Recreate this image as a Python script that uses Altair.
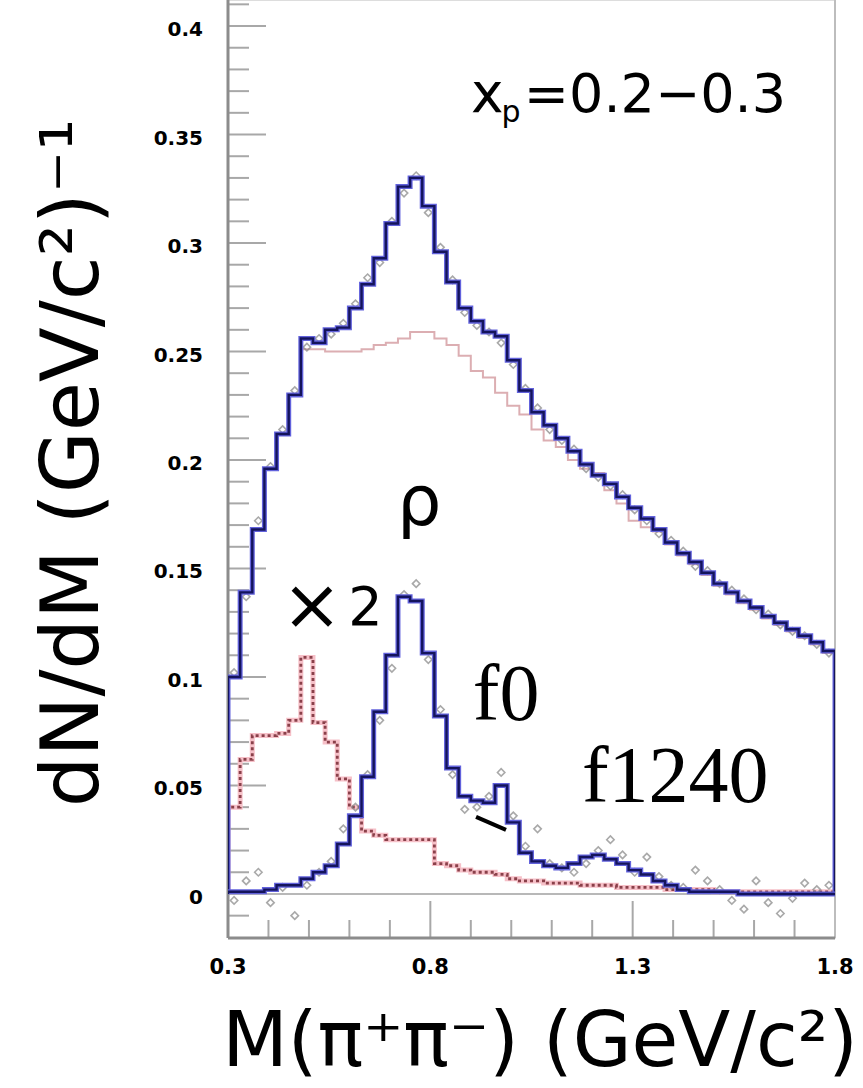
import altair as alt
import pandas as pd

# ---------------- data ----------------
BIN_START = 0.30
BIN_WIDTH = 0.03
N_BINS = 50
edges = [round(BIN_START + BIN_WIDTH * i, 3) for i in range(N_BINS + 1)]
centers = [round(BIN_START + BIN_WIDTH * (i + 0.5), 3) for i in range(N_BINS)]

# total distribution (blue histogram, upper)
upper = [0.100, 0.139, 0.168, 0.196, 0.212, 0.230, 0.256, 0.254, 0.260, 0.261,
         0.270, 0.281, 0.293, 0.309, 0.326, 0.330, 0.317, 0.296, 0.282, 0.270,
         0.264, 0.259, 0.257, 0.246, 0.232, 0.222, 0.216, 0.210, 0.204, 0.198,
         0.193, 0.189, 0.183, 0.178, 0.173, 0.168, 0.162, 0.157, 0.153, 0.148,
         0.143, 0.139, 0.135, 0.132, 0.128, 0.125, 0.122, 0.119, 0.116, 0.112]

# background (thin pink line)
background = [0.100, 0.139, 0.168, 0.196, 0.212, 0.230, 0.251, 0.251, 0.250, 0.250,
              0.250, 0.251, 0.253, 0.254, 0.256, 0.259, 0.259, 0.256, 0.253, 0.248,
              0.241, 0.238, 0.231, 0.225, 0.221, 0.214, 0.209, 0.206, 0.200, 0.196,
              0.194, 0.186, 0.180, 0.172, 0.169, 0.167, 0.161, 0.156, 0.152, 0.147,
              0.142, 0.138, 0.134, 0.131, 0.127, 0.124, 0.121, 0.118, 0.115, 0.111]

# signal (blue histogram, lower)
signal = [0.001, 0.001, 0.001, 0.002, 0.004, 0.004, 0.007, 0.010, 0.013, 0.023,
          0.036, 0.054, 0.084, 0.110, 0.137, 0.135, 0.111, 0.082, 0.058, 0.045,
          0.043, 0.042, 0.050, 0.033, 0.019, 0.015, 0.013, 0.012, 0.014, 0.017,
          0.018, 0.016, 0.014, 0.011, 0.009, 0.006, 0.004, 0.002, 0.001, 0.001,
          0.001, 0.001, 0.000, 0.000, 0.000, 0.000, 0.000, 0.000, 0.000, 0.000]

# "x 2" component (red dashed)
scaled = [0.040, 0.062, 0.073, 0.073, 0.074, 0.080, 0.109, 0.079, 0.070, 0.053,
          0.040, 0.029, 0.027, 0.025, 0.025, 0.025, 0.025, 0.014, 0.013, 0.011,
          0.010, 0.010, 0.009, 0.007, 0.006, 0.006, 0.005, 0.005, 0.005, 0.004,
          0.004, 0.004, 0.003, 0.003, 0.003, 0.003, 0.002, 0.002, 0.002, 0.002,
          0.001, 0.001, 0.001, 0.001, 0.001, 0.001, 0.001, 0.001, 0.001, 0.001]

# data points (open diamonds)
upper_pts = [0.102, 0.137, 0.172, 0.197, 0.214, 0.232, 0.252, 0.256, 0.258, 0.263,
             0.272, 0.284, 0.291, 0.310, 0.323, 0.331, 0.314, 0.298, 0.283, 0.268,
             0.262, 0.259, 0.254, 0.244, 0.233, 0.224, 0.214, 0.209, 0.205, 0.196,
             0.192, 0.188, 0.184, 0.177, 0.172, 0.166, 0.163, 0.158, 0.151, 0.149,
             0.143, 0.140, 0.136, 0.131, 0.129, 0.124, 0.121, 0.119, 0.115, 0.111]
lower_pts = [-0.003, 0.006, 0.010, -0.004, 0.003, -0.010, 0.004, 0.010, 0.015, 0.030,
             0.040, 0.055, 0.080, 0.104, 0.138, 0.143, 0.108, 0.085, 0.055, 0.039,
             0.040, 0.045, 0.056, 0.036, 0.022, 0.030, 0.014, 0.012, 0.010, 0.014,
             0.020, 0.025, 0.018, 0.010, 0.017, 0.008, 0.004, 0.003, 0.011, 0.006,
             0.002, -0.003, -0.007, 0.006, -0.004, -0.009, -0.002, 0.005, 0.002, 0.004]

x_labels = [0.3, 0.8, 1.3, 1.8]
x_label_text = ["0.3", "0.8", "1.3", "1.8"]
y_labels = [0, 0.05, 0.1, 0.15, 0.2, 0.25, 0.3, 0.35, 0.4]
y_label_text = ["0", "0.05", "0.1", "0.15", "0.2", "0.25", "0.3", "0.35", "0.4"]
x_major_ticks = [0.8, 1.3]
x_minor_ticks = [0.4, 0.5, 0.6, 0.7, 0.9, 1.0, 1.1, 1.2, 1.4, 1.5, 1.6, 1.7]
y_major_ticks = [0.0, 0.05, 0.1, 0.15, 0.2, 0.25, 0.3, 0.35, 0.4]
y_minor_ticks = [-0.01, 0.01, 0.02, 0.03, 0.04, 0.06, 0.07, 0.08, 0.09, 0.11, 0.12,
                 0.13, 0.14, 0.16, 0.17, 0.18, 0.19, 0.21, 0.22, 0.23, 0.24, 0.26,
                 0.27, 0.28, 0.29, 0.31, 0.32, 0.33, 0.34, 0.36, 0.37, 0.38, 0.39, 0.41]

x_title = "M(π⁺π⁻)  (GeV/c²)"
y_title = "dN/dM  (GeV/c²)⁻¹"

# annotation anchors (data coordinates)
arrow_x = [0.913, 0.987]
arrow_y = [0.0355, 0.0295]

W, H = 607, 938
FONT = "DejaVu Sans"

xs = alt.Scale(domain=[0.3, 1.8], nice=False, zero=False)
ys = alt.Scale(domain=[-0.0203, 0.412], nice=False, zero=False)


def step_df(vals):
    rows = [{"x": edges[0], "y": 0.0, "o": 0}]
    o = 1
    for i, v in enumerate(vals):
        rows.append({"x": edges[i], "y": v, "o": o}); o += 1
        rows.append({"x": edges[i + 1], "y": v, "o": o}); o += 1
    rows.append({"x": edges[-1], "y": 0.0, "o": o})
    return pd.DataFrame(rows)


def X():
    return alt.X("x:Q", scale=xs, axis=None)


def Y():
    return alt.Y("y:Q", scale=ys, axis=None)


def step_line(vals, color, width, dash=None):
    kw = dict(color=color, strokeWidth=width, strokeJoin="miter", strokeCap="butt", clip=True)
    if dash:
        kw["strokeDash"] = dash
    return alt.Chart(step_df(vals)).mark_line(**kw).encode(x=X(), y=Y(), order="o:Q")


one = pd.DataFrame({"k": [0]})

# frame / axis lines
left_axis = alt.Chart(one).mark_rule(color="#8c8c8c", strokeWidth=3).encode(
    x=alt.value(0), y=alt.value(0), y2=alt.value(H))
bottom_axis = alt.Chart(one).mark_rule(color="#8c8c8c", strokeWidth=3).encode(
    y=alt.value(H), x=alt.value(0), x2=alt.value(W))
right_border = alt.Chart(one).mark_rule(color="#bdbdbd", strokeWidth=2).encode(
    x=alt.value(W), y=alt.value(0), y2=alt.value(H))

tick_color = "#a8a8a8"
xmaj = alt.Chart(pd.DataFrame({"x": x_major_ticks})).mark_rule(color=tick_color, strokeWidth=2).encode(
    x=X(), y=alt.value(H), y2=alt.value(H - 37))
xmin = alt.Chart(pd.DataFrame({"x": x_minor_ticks})).mark_rule(color=tick_color, strokeWidth=2).encode(
    x=X(), y=alt.value(H), y2=alt.value(H - 18))
ymaj = alt.Chart(pd.DataFrame({"y": y_major_ticks})).mark_rule(color=tick_color, strokeWidth=2).encode(
    y=Y(), x=alt.value(0), x2=alt.value(38))
ymin = alt.Chart(pd.DataFrame({"y": y_minor_ticks})).mark_rule(color=tick_color, strokeWidth=2).encode(
    y=Y(), x=alt.value(0), x2=alt.value(21))
zero_line = alt.Chart(pd.DataFrame({"y": [0.0]})).mark_rule(color="#b8b8b8", strokeWidth=2).encode(
    y=Y(), x=alt.value(0), x2=alt.value(W))

# tick labels & titles
x_tick_labels = alt.Chart(pd.DataFrame({"x": x_labels, "t": x_label_text})).mark_text(
    font=FONT, fontWeight="bold", fontSize=21, align="center", baseline="middle",
    dy=30, color="#000").encode(x=X(), y=alt.value(H), text="t:N")
y_tick_labels = alt.Chart(pd.DataFrame({"y": y_labels, "t": y_label_text})).mark_text(
    font=FONT, fontWeight="bold", fontSize=20, align="right", baseline="middle",
    dx=-25, dy=4, color="#000").encode(y=Y(), x=alt.value(0), text="t:N")
x_title_mark = alt.Chart(pd.DataFrame({"t": [x_title]})).mark_text(
    font=FONT, fontSize=76, align="center", baseline="alphabetic", color="#000").encode(
    x=alt.value(312), y=alt.value(H + 128), text="t:N")
y_title_mark = alt.Chart(pd.DataFrame({"t": [y_title]})).mark_text(
    font=FONT, fontSize=80, align="center", baseline="alphabetic", angle=270, color="#000").encode(
    x=alt.value(-130), y=alt.value(463), text="t:N")

bg_line = step_line(background, "#dcaeb2", 2)
red_band = step_line(scaled, "#f6c0c8", 5)
red_dots = step_line(scaled, "#8a404a", 2.8, dash=[3, 3])

pts = pd.DataFrame({"x": centers + centers, "y": upper_pts + lower_pts})
markers = alt.Chart(pts).mark_point(shape="diamond", filled=False, size=55,
                                    color="#858585", strokeWidth=1.6).encode(x=X(), y=Y())

up_halo = step_line(upper, "#6262dc", 5)
up_core = step_line(upper, "#14145c", 2.4)
lo_halo = step_line(signal, "#6262dc", 5)
lo_core = step_line(signal, "#14145c", 2.4)

arrow = alt.Chart(pd.DataFrame({"x": arrow_x, "y": arrow_y})).mark_line(
    color="#000", strokeWidth=4).encode(x=X(), y=Y())


def label(txt, x, y, size, font=FONT, align="left", baseline="alphabetic"):
    return alt.Chart(pd.DataFrame({"x": [x], "y": [y], "t": [txt]})).mark_text(
        font=font, fontSize=size, align=align, baseline=baseline, color="#000").encode(
        x=X(), y=Y(), text="t:N")


texts = [
    label("x", 0.9005, 0.3604, 55),
    label("p", 0.976, 0.3558, 30),
    label("=0.2−0.3", 1.031, 0.3604, 54),
    label("ρ", 0.7176, 0.170, 70),
    label("×", 0.5076, 0.1323, 72, align="center", baseline="middle"),
    label("2", 0.597, 0.124, 54),
    label("f0", 0.905, 0.0802, 80, font="Liberation Serif"),
    label("f1240", 1.1747, 0.0424, 80, font="Liberation Serif"),
]

chart = alt.layer(
    xmin, xmaj, ymin, ymaj, zero_line, right_border, left_axis, bottom_axis,
    x_tick_labels, y_tick_labels, x_title_mark, y_title_mark,
    bg_line, red_band, red_dots, markers,
    up_halo, up_core, lo_halo, lo_core, arrow, *texts,
).properties(
    width=W, height=H,
    padding={"left": 228, "top": 0, "right": 863 - 228 - W, "bottom": 1088 - H},
    autosize=alt.AutoSizeParams(type="none"),
).configure_view(strokeWidth=0).configure(background="white")

chart.save("out.html", embed_options={"renderer": "svg", "actions": False})
